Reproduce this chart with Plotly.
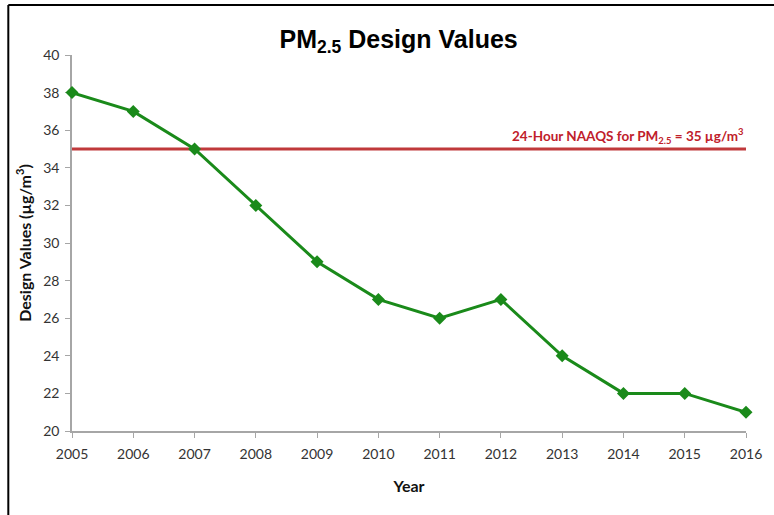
import plotly.graph_objects as go

years = [2005, 2006, 2007, 2008, 2009, 2010, 2011, 2012, 2013, 2014, 2015, 2016]
design_values = [38, 37, 35, 32, 29, 27, 26, 27, 24, 22, 22, 21]
naaqs = 35
y_ticks = [20, 22, 24, 26, 28, 30, 32, 34, 36, 38, 40]

tick_font = dict(family="Lato, Open Sans, sans-serif", size=14, color="#333333")
axis_title_font = dict(family="Lato, Open Sans, sans-serif", size=16, color="#111111")

fig = go.Figure()

# standard line
fig.add_trace(go.Scatter(
    x=[years[0], years[-1]],
    y=[naaqs, naaqs],
    mode="lines",
    line=dict(color="#c0393b", width=3),
    hoverinfo="skip",
    cliponaxis=False,
))

fig.add_trace(go.Scatter(
    x=years,
    y=design_values,
    mode="lines+markers",
    line=dict(color="#1a8a1a", width=3),
    marker=dict(symbol="diamond", size=10, color="#1a8a1a"),
    cliponaxis=False,
))

fig.add_annotation(
    x=years[-1], y=naaqs, xref="x", yref="y",
    text="<b>24-Hour NAAQS for PM<sub>2.5</sub> = 35 µg/m<sup>3</sup></b>",
    showarrow=False, xanchor="right", yanchor="bottom", yshift=1,
    font=dict(family="Lato, Open Sans, sans-serif", size=13.5, color="#c0202a"),
)

# frame around the chart (top and left edges visible)
fig.add_shape(type="line", xref="paper", yref="paper",
              x0=-0.0945, x1=1.05, y0=1.133, y1=1.133,
              line=dict(color="black", width=2))
fig.add_shape(type="line", xref="paper", yref="paper",
              x0=-0.0945, x1=-0.0945, y0=1.133, y1=-0.25,
              line=dict(color="black", width=2))

fig.update_layout(
    width=774, height=515,
    margin=dict(l=72, r=25, t=55, b=84),
    paper_bgcolor="white", plot_bgcolor="white",
    showlegend=False,
    title=dict(
        text="<b>PM<sub>2.5</sub> Design Values</b>",
        x=0.515, xanchor="center", y=0.924, yanchor="middle",
        font=dict(family="Liberation Sans, Arial, sans-serif", size=25, color="black"),
    ),
    xaxis=dict(
        range=[2005, 2016], tickvals=years, ticktext=[str(y) for y in years],
        showgrid=False, zeroline=False, layer="below traces",
        showline=True, linecolor="#a6a6a6", linewidth=1.5,
        ticks="outside", ticklen=5, tickcolor="#a6a6a6",
        tickfont=tick_font, ticklabelstandoff=4,
        title=dict(text="<b>Year</b>", font=axis_title_font, standoff=20),
    ),
    yaxis=dict(
        range=[20, 40], tickvals=y_ticks,
        showgrid=False, zeroline=False, layer="below traces",
        showline=True, linecolor="#a6a6a6", linewidth=1.5,
        ticks="outside", ticklen=5, tickcolor="#a6a6a6",
        tickfont=tick_font, ticklabelstandoff=3,
        title=dict(text="<b>Design Values (µg/m<sup>3</sup>)</b>", font=axis_title_font, standoff=8),
    ),
)

fig.write_html("out.html", config={"displayModeBar": False},
               post_script="document.body.style.margin='0';document.body.style.overflow='hidden';")
